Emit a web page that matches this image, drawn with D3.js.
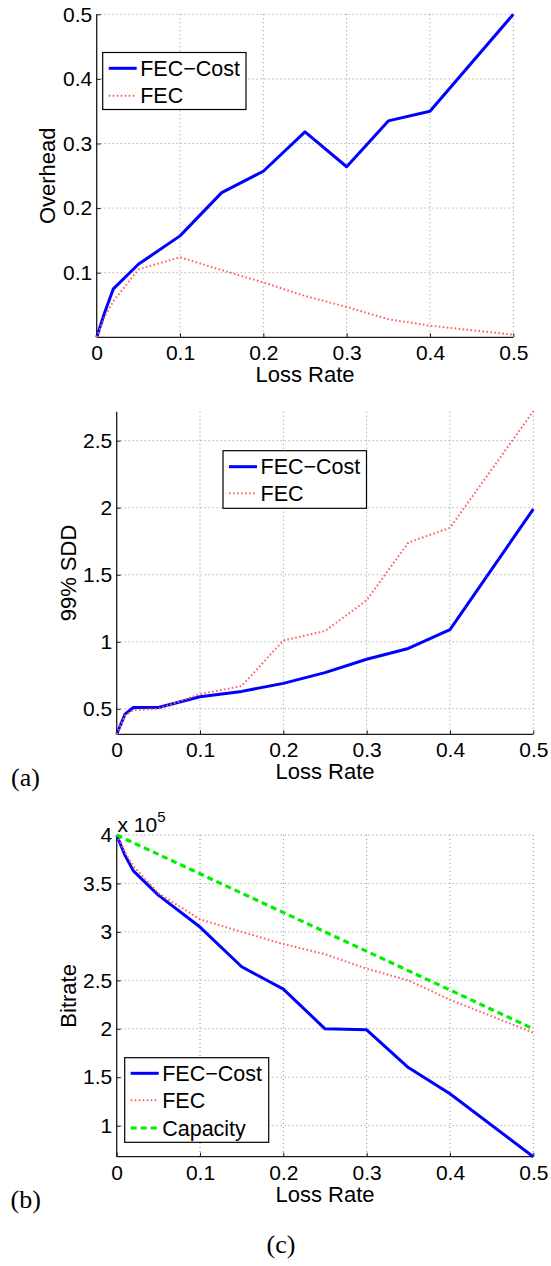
<!DOCTYPE html>
<html>
<head>
<meta charset="utf-8">
<script src="https://cdn.jsdelivr.net/npm/d3@7"></script>
<style>
  html, body { margin: 0; padding: 0; background: #fff; }
  svg { display: block; }
  text { font-family: "Liberation Sans", Arial, Helvetica, sans-serif; fill: #000; }
  .serif { font-family: "Liberation Serif", "Times New Roman", serif; }
</style>
</head>
<body>
<svg id="fig" width="551" height="1266"></svg>
<script>
// Shared x values (loss rate)
const lossRate = [0, 0.01, 0.02, 0.05, 0.1, 0.15, 0.2, 0.25, 0.3, 0.35, 0.4, 0.5];
const xTicks = [0, 0.1, 0.2, 0.3, 0.4, 0.5];

// Overhead vs loss rate
const overheadFecCost = [0, 0.040, 0.075, 0.113, 0.157, 0.224, 0.257, 0.318, 0.264, 0.335, 0.350, 0.500];
const overheadFec     = [0, 0.033, 0.056, 0.105, 0.124, 0.104, 0.085, 0.064, 0.047, 0.028, 0.018, 0.004];
const overheadTicks   = [0.1, 0.2, 0.3, 0.4, 0.5];

// 99% SDD vs loss rate
const sddFecCost = [0.31, 0.46, 0.51, 0.51, 0.59, 0.63, 0.69, 0.77, 0.87, 0.95, 1.09, 1.99];
const sddFec     = [0.31, 0.45, 0.49, 0.50, 0.61, 0.67, 1.01, 1.08, 1.31, 1.74, 1.85, 2.72];
const sddTicks   = [0.5, 1, 1.5, 2, 2.5];

// Bitrate vs loss rate
const bitrateFecCost = [400000, 379000, 363000, 338000, 305000, 264000, 241000, 200000, 199000, 160000, 133000, 68000];
const bitrateFec     = [400000, 382000, 368000, 340000, 313000, 300000, 287500, 277000, 262000, 250000, 230000, 196000];
const capacity       = [400000, 396000, 392000, 380000, 360000, 340000, 320000, 300000, 280000, 260000, 240000, 200000];
const bitrateTicks   = [100000, 150000, 200000, 250000, 300000, 350000, 400000];

const legendNames = ["FEC\u2212Cost", "FEC", "Capacity"];

const TICK_FONT = 21;
const LABEL_FONT = 22;
const LEGEND_FONT = 21.5;

const STYLE = {
  cost: { stroke: "#0000ff", width: 3, dash: null },
  fec:  { stroke: "#ff5f5f", width: 2, dash: "1.6,2.4" },
  cap:  { stroke: "#00f000", width: 3.2, dash: "6,4" }
};

const svg = d3.select("#fig");
svg.append("rect").attr("width", 551).attr("height", 1266).attr("fill", "#fff");

function panel(opt) {
  const g = svg.append("g");
  const x = d3.scaleLinear().domain([0, 0.5]).range([opt.left, opt.right]);
  const y = d3.scaleLinear().domain(opt.yDomain).range([opt.bottom, opt.top]);

  // dotted grid
  const grid = g.append("g").attr("stroke", "#8c8c8c").attr("stroke-width", 1)
    .attr("stroke-dasharray", "1,3").attr("fill", "none");
  xTicks.filter(d => d > 0).forEach(d => {
    grid.append("line").attr("x1", x(d)).attr("x2", x(d)).attr("y1", opt.top).attr("y2", opt.bottom);
  });
  opt.yTicks.forEach(d => {
    grid.append("line").attr("x1", opt.left).attr("x2", opt.right).attr("y1", y(d)).attr("y2", y(d));
  });

  // axes (inward ticks, no box)
  const xAxis = d3.axisBottom(x).tickValues(xTicks).tickSizeInner(-4).tickSizeOuter(0)
    .tickPadding(8).tickFormat(d3.format("~g"));
  const gx = g.append("g").attr("transform", `translate(0,${opt.bottom})`).call(xAxis);
  const yAxis = d3.axisLeft(y).tickValues(opt.yTicks).tickSizeInner(-4).tickSizeOuter(0)
    .tickPadding(4.5).tickFormat(opt.yFormat || d3.format("~g"));
  const gy = g.append("g").attr("transform", `translate(${opt.left},0)`).call(yAxis);
  [gx, gy].forEach(a => {
    a.select(".domain").attr("stroke", "#1a1a1a").attr("stroke-width", 1.3);
    a.selectAll(".tick line").attr("stroke", "#1a1a1a");
    a.selectAll(".tick text").attr("font-size", TICK_FONT).attr("font-family", "Liberation Sans, Arial, sans-serif");
  });
  gx.selectAll(".tick text").attr("dy", "0.71em");
  // extend the axis lines across the full plot area
  gx.select(".domain").attr("d", `M${opt.left},0H${opt.right}`);
  gy.select(".domain").attr("d", `M0,${opt.bottom}V${opt.top}`);

  // series
  const line = d3.line().x((d, i) => x(lossRate[i])).y(d => y(d));
  opt.series.forEach(s => {
    const st = STYLE[s.style];
    g.append("path").datum(s.values).attr("d", line)
      .attr("fill", "none").attr("stroke", st.stroke).attr("stroke-width", st.width)
      .attr("stroke-dasharray", st.dash).attr("stroke-linejoin", "round").attr("stroke-linecap", "butt");
  });

  // axis labels
  g.append("text").attr("x", (opt.left + opt.right) / 2).attr("y", opt.bottom + 45)
    .attr("text-anchor", "middle").attr("font-size", LABEL_FONT).text("Loss Rate");
  g.append("text").attr("transform", `translate(${opt.yLabelX},${(opt.top + opt.bottom) / 2}) rotate(-90)`)
    .attr("text-anchor", "middle").attr("font-size", LABEL_FONT).text(opt.yLabel);

  // legend
  const L = opt.legend;
  const lg = g.append("g");
  lg.append("rect").attr("x", L.x).attr("y", L.y).attr("width", L.w).attr("height", L.h)
    .attr("fill", "#fff").attr("stroke", "#000").attr("stroke-width", 1.2);
  opt.series.forEach((s, i) => {
    const st = STYLE[s.style];
    const cy = L.rows[i];
    lg.append("line").attr("x1", L.x + 6).attr("x2", L.x + 34).attr("y1", cy).attr("y2", cy)
      .attr("stroke", st.stroke).attr("stroke-width", st.width).attr("stroke-dasharray", st.dash);
    lg.append("text").attr("x", L.x + 37.5).attr("y", cy).attr("dy", "0.36em")
      .attr("font-size", LEGEND_FONT).text(s.name);
  });
  return { g, x, y };
}

panel({
  left: 96.7, right: 513.3, top: 14.3, bottom: 337.3,
  yDomain: [0, 0.5], yTicks: overheadTicks, yLabel: "Overhead", yLabelX: 54.5,
  series: [
    { name: legendNames[0], values: overheadFecCost, style: "cost" },
    { name: legendNames[1], values: overheadFec, style: "fec" }
  ],
  legend: { x: 102.7, y: 52.5, w: 143.3, h: 57, rows: [68.3, 95.7] }
});

panel({
  left: 116.7, right: 533.3, top: 411.7, bottom: 734.3,
  yDomain: [0.31, 2.716], yTicks: sddTicks, yLabel: "99% SDD", yLabelX: 75.5,
  series: [
    { name: legendNames[0], values: sddFecCost, style: "cost" },
    { name: legendNames[1], values: sddFec, style: "fec" }
  ],
  legend: { x: 223, y: 450.7, w: 143.5, h: 57.6, rows: [466.7, 493.3] }
});

const p3 = panel({
  left: 116.7, right: 533.3, top: 835, bottom: 1156.7,
  yDomain: [68000, 400000], yTicks: bitrateTicks, yLabel: "Bitrate", yLabelX: 75.5,
  yFormat: d => d3.format("~g")(d / 1e5),
  series: [
    { name: legendNames[0], values: bitrateFecCost, style: "cost" },
    { name: legendNames[1], values: bitrateFec, style: "fec" },
    { name: legendNames[2], values: capacity, style: "cap" }
  ],
  legend: { x: 124.7, y: 1057.7, w: 144, h: 84.6, rows: [1073.3, 1100.3, 1128] }
});

// exponent label of the bitrate axis
const expo = p3.g.append("text").attr("x", 117.5).attr("y", 831.5).attr("font-size", TICK_FONT);
expo.append("tspan").text("x 10");
expo.append("tspan").attr("dy", -10).attr("font-size", 15).text("5");

// subfigure captions
svg.append("text").attr("class", "serif").attr("x", 11).attr("y", 786).attr("font-size", 26).text("(a)");
svg.append("text").attr("class", "serif").attr("x", 10.5).attr("y", 1208).attr("font-size", 26).text("(b)");
svg.append("text").attr("class", "serif").attr("x", 281).attr("y", 1253).attr("font-size", 26)
  .attr("text-anchor", "middle").text("(c)");
</script>
</body>
</html>
